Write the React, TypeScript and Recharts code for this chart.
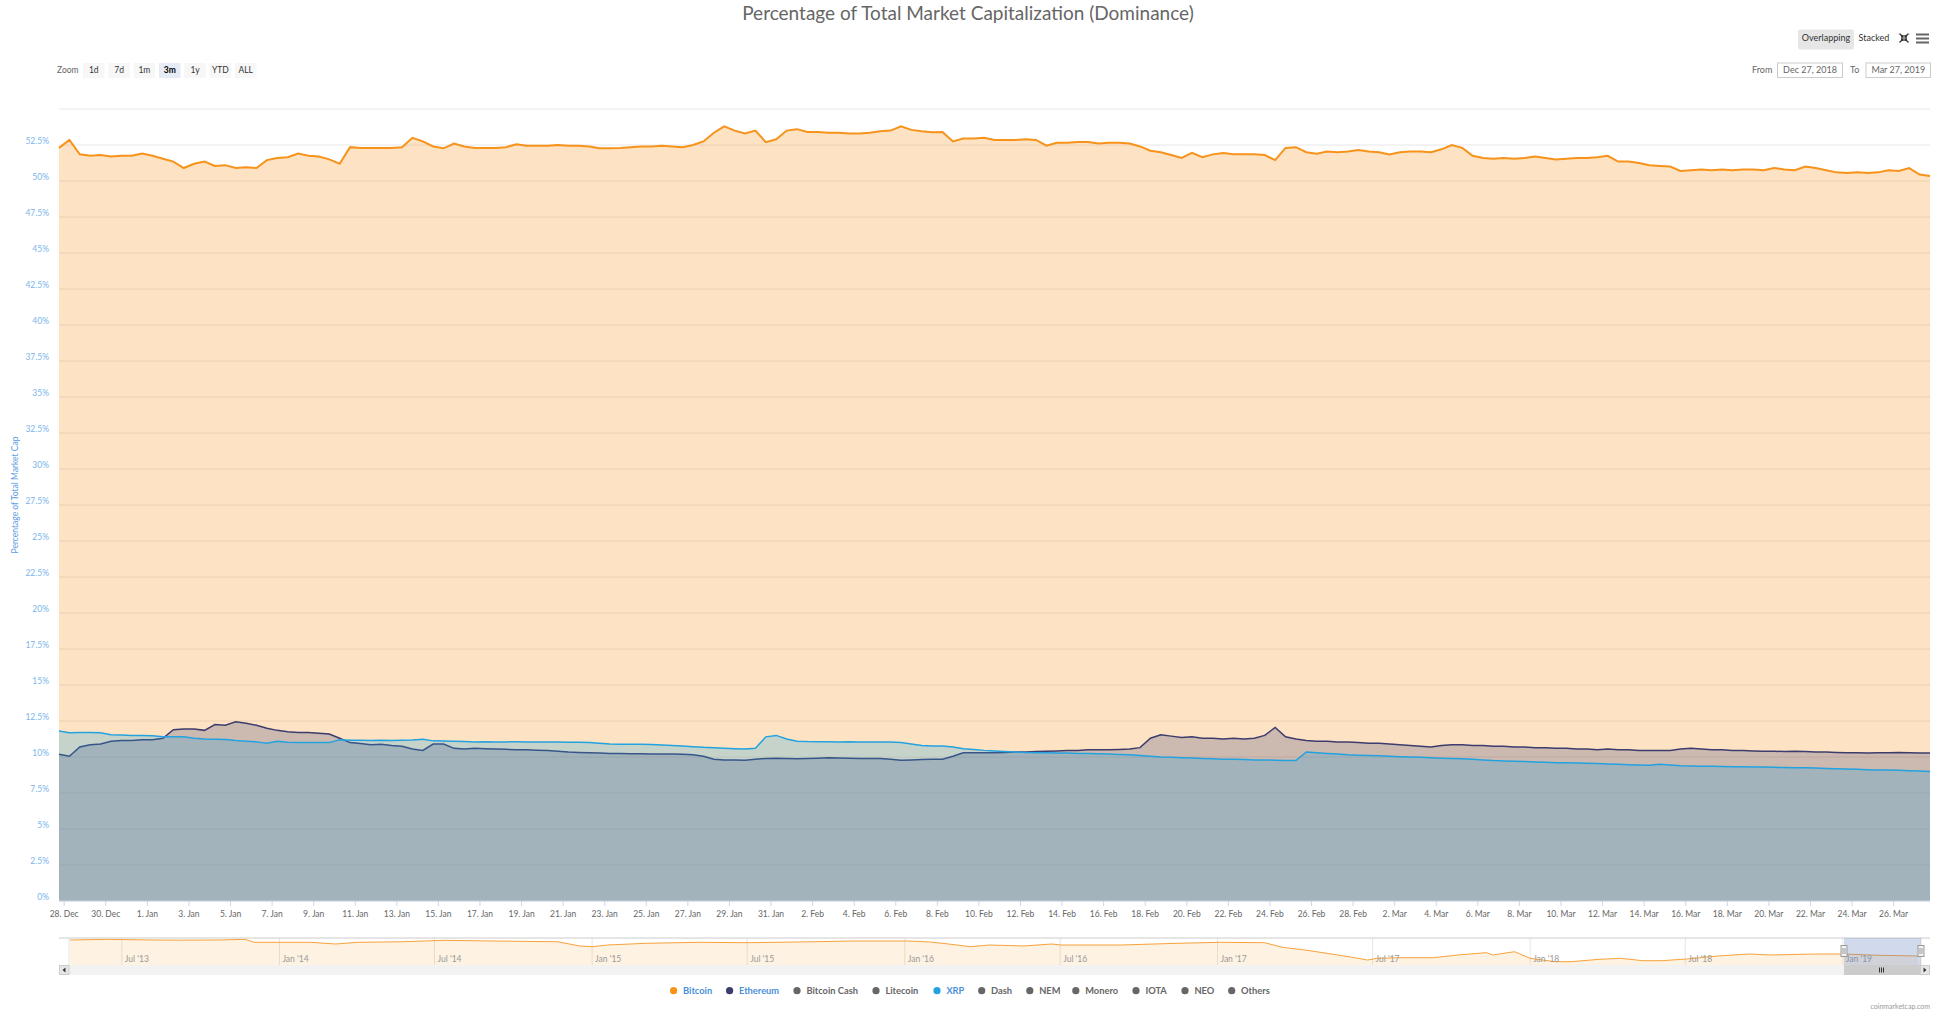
import { AreaChart, Area, XAxis, YAxis, CartesianGrid } from "recharts";

const FONT = "Lato, 'Open Sans', sans-serif";

// readings every 12 hours, first one at Dec 27 2018 18:00 (day -0.25 from 28. Dec)
const firstDay = -0.25;
const stepDays = 0.5;

const btcDominance = [
  52.3, 52.85, 51.85, 51.75, 51.8, 51.7, 51.75, 51.75, 51.9, 51.75,
  51.55, 51.35, 50.9, 51.2, 51.35, 51.05, 51.1, 50.9, 50.95, 50.9,
  51.45, 51.6, 51.65, 51.9, 51.75, 51.7, 51.5, 51.2, 52.35, 52.3,
  52.3, 52.3, 52.3, 52.35, 53.0, 52.75, 52.4, 52.27, 52.6, 52.4,
  52.3, 52.3, 52.3, 52.35, 52.55, 52.45, 52.45, 52.45, 52.5, 52.45,
  52.45, 52.4, 52.27, 52.27, 52.3, 52.35, 52.4, 52.4, 52.45, 52.4,
  52.35, 52.5, 52.75, 53.35, 53.8, 53.5, 53.3, 53.5, 52.7, 52.9,
  53.5, 53.6, 53.4, 53.4, 53.35, 53.35, 53.3, 53.3, 53.35, 53.45,
  53.5, 53.8, 53.55, 53.45, 53.38, 53.4, 52.75, 52.95, 52.95, 53.0,
  52.85, 52.85, 52.85, 52.9, 52.85, 52.45, 52.65, 52.65, 52.7, 52.7,
  52.6, 52.65, 52.65, 52.6, 52.4, 52.1, 52.0, 51.8, 51.6, 51.95,
  51.65, 51.85, 51.95, 51.85, 51.85, 51.85, 51.8, 51.45, 52.3, 52.35,
  52.0, 51.9, 52.05, 52.0, 52.05, 52.15, 52.05, 52.0, 51.85, 52.0,
  52.05, 52.05, 52.0, 52.2, 52.5, 52.3, 51.75, 51.6, 51.55, 51.6,
  51.55, 51.6, 51.7, 51.6, 51.5, 51.55, 51.6, 51.6, 51.65, 51.75,
  51.35, 51.35, 51.25, 51.1, 51.05, 51.0, 50.7, 50.75, 50.8, 50.75,
  50.8, 50.75, 50.8, 50.8, 50.75, 50.9, 50.8, 50.75, 51.0, 50.9,
  50.75, 50.6, 50.55, 50.6, 50.55, 50.6, 50.75, 50.7, 50.9, 50.45,
  50.35,
];

const ethDominance = [
  10.19, 10.05, 10.7, 10.85, 10.9, 11.1, 11.15, 11.15, 11.2, 11.2,
  11.3, 11.9, 11.95, 11.95, 11.85, 12.25, 12.2, 12.45, 12.35, 12.2,
  12.0, 11.85, 11.75, 11.7, 11.7, 11.65, 11.6, 11.3, 11.0, 10.93,
  10.85, 10.88, 10.8, 10.75, 10.55, 10.46, 10.9, 10.9, 10.6, 10.55,
  10.6, 10.58, 10.55, 10.53, 10.5, 10.5, 10.47, 10.45, 10.4, 10.35,
  10.32, 10.3, 10.28, 10.25, 10.24, 10.23, 10.22, 10.21, 10.2, 10.2,
  10.19, 10.15, 10.05, 9.85, 9.8, 9.8, 9.78, 9.85, 9.9, 9.92,
  9.9, 9.88, 9.9, 9.92, 9.95, 9.93, 9.92, 9.9, 9.9, 9.9,
  9.85, 9.77, 9.8, 9.82, 9.84, 9.85, 10.05, 10.3, 10.3, 10.3,
  10.3, 10.32, 10.35, 10.35, 10.38, 10.4, 10.42, 10.45, 10.45, 10.5,
  10.5, 10.5, 10.52, 10.55, 10.65, 11.3, 11.55, 11.45, 11.35, 11.4,
  11.3, 11.3, 11.25, 11.3, 11.25, 11.3, 11.5, 12.05, 11.4, 11.25,
  11.15, 11.1, 11.1, 11.05, 11.05, 11.0, 10.95, 10.95, 10.9, 10.85,
  10.8, 10.75, 10.7, 10.8, 10.85, 10.85, 10.8, 10.8, 10.75, 10.75,
  10.7, 10.7, 10.65, 10.65, 10.6, 10.6, 10.55, 10.55, 10.5, 10.55,
  10.5, 10.5, 10.45, 10.45, 10.45, 10.45, 10.55, 10.6, 10.55, 10.5,
  10.5, 10.45, 10.45, 10.42, 10.4, 10.4, 10.38, 10.4, 10.38, 10.35,
  10.35, 10.32, 10.3, 10.3, 10.28, 10.3, 10.3, 10.32, 10.3, 10.28,
  10.27,
];

const xrpDominance = [
  11.8, 11.68, 11.7, 11.7, 11.68, 11.55, 11.52, 11.5, 11.5, 11.48,
  11.4, 11.4, 11.4, 11.3, 11.25, 11.23, 11.22, 11.15, 11.1, 11.05,
  10.95, 11.1, 11.02, 11.0, 11.0, 11.0, 11.0, 11.2, 11.16, 11.16,
  11.15, 11.16, 11.15, 11.16, 11.18, 11.23, 11.12, 11.11, 11.1, 11.08,
  11.05, 11.06, 11.05, 11.05, 11.06, 11.05, 11.04, 11.05, 11.04, 11.03,
  11.02, 11.0, 10.95, 10.9, 10.88, 10.88, 10.88, 10.87, 10.84, 10.8,
  10.77, 10.72, 10.67, 10.64, 10.61, 10.58, 10.55, 10.6, 11.4, 11.5,
  11.25, 11.1, 11.07, 11.06, 11.06, 11.05, 11.06, 11.05, 11.05, 11.05,
  11.04, 11.0, 10.9, 10.8, 10.77, 10.76, 10.7, 10.58, 10.52, 10.46,
  10.42, 10.38, 10.35, 10.32, 10.3, 10.3, 10.28, 10.27, 10.25, 10.25,
  10.22, 10.2, 10.18, 10.15, 10.1, 10.05, 10.0, 9.98, 9.95, 9.93,
  9.9, 9.88, 9.85, 9.85, 9.82, 9.8, 9.8, 9.78, 9.75, 9.75,
  10.35, 10.3, 10.25, 10.2, 10.15, 10.12, 10.1, 10.08, 10.05, 10.02,
  10.0, 9.98, 9.95, 9.92, 9.9, 9.88, 9.85, 9.8, 9.75, 9.72,
  9.7, 9.68, 9.65, 9.63, 9.6, 9.6, 9.58, 9.57, 9.55, 9.52,
  9.5, 9.47, 9.45, 9.42, 9.5, 9.45, 9.4, 9.38, 9.36, 9.35,
  9.34, 9.33, 9.32, 9.3, 9.3, 9.28, 9.27, 9.26, 9.25, 9.23,
  9.2, 9.18, 9.16, 9.15, 9.12, 9.1, 9.1, 9.08, 9.05, 9.02,
  9.0,
];

const xTickDays = [
  0, 2, 4, 6, 8, 10, 12, 14, 16, 18, 20, 22, 24, 26, 28, 30, 32, 34, 36, 38, 40, 42, 44,
  46, 48, 50, 52, 54, 56, 58, 60, 62, 64, 66, 68, 70, 72, 74, 76, 78, 80, 82, 84, 86, 88,
];
const xTickLabels = [
  "28. Dec", "30. Dec", "1. Jan", "3. Jan", "5. Jan", "7. Jan", "9. Jan", "11. Jan",
  "13. Jan", "15. Jan", "17. Jan", "19. Jan", "21. Jan", "23. Jan", "25. Jan", "27. Jan",
  "29. Jan", "31. Jan", "2. Feb", "4. Feb", "6. Feb", "8. Feb", "10. Feb", "12. Feb",
  "14. Feb", "16. Feb", "18. Feb", "20. Feb", "22. Feb", "24. Feb", "26. Feb", "28. Feb",
  "2. Mar", "4. Mar", "6. Mar", "8. Mar", "10. Mar", "12. Mar", "14. Mar", "16. Mar",
  "18. Mar", "20. Mar", "22. Mar", "24. Mar", "26. Mar",
];
const yTicks = [
  0, 2.5, 5, 7.5, 10, 12.5, 15, 17.5, 20, 22.5, 25, 27.5, 30, 32.5, 35, 37.5, 40, 42.5,
  45, 47.5, 50, 52.5, 55,
];

// navigator: whole history of bitcoin dominance
const navYears = [
  2013.33, 2013.45, 2013.59, 2013.68, 2013.81, 2013.89, 2013.92, 2013.99, 2014.1, 2014.18,
  2014.25, 2014.39, 2014.53, 2014.68, 2014.89, 2014.96, 2015.0, 2015.05, 2015.17, 2015.34,
  2015.5, 2015.71, 2015.83, 2016.01, 2016.08, 2016.14, 2016.21, 2016.27, 2016.38, 2016.47,
  2016.5, 2016.69, 2016.87, 2017.01, 2017.15, 2017.21, 2017.28, 2017.35, 2017.42, 2017.48,
  2017.51, 2017.59, 2017.69, 2017.77, 2017.86, 2017.88, 2017.95, 2018.0, 2018.08, 2018.13,
  2018.22, 2018.29, 2018.36, 2018.42, 2018.5, 2018.6, 2018.7, 2018.77, 2018.91, 2019.0,
  2019.12, 2019.24,
];
const navBtc = [
  94.7, 96.4, 94.7, 94.2, 94.7, 96.4, 88.5, 88.5, 88.5, 84,
  88.5, 90, 93.8, 92, 90, 78.7, 76.8, 81.3, 85.8, 88.5,
  87.5, 90, 92, 92, 89.5, 84, 76.8, 81.3, 78.7, 84,
  81.3, 81.3, 85.8, 88.5, 87.5, 75, 68, 59.2, 50, 41.3,
  45.8, 47.5, 47.5, 54.7, 60.9, 54.7, 63.5, 45.8, 36.8, 36.8,
  43.1, 45.8, 39.5, 39.5, 44, 52, 57.3, 54.7, 57.3, 57.3,
  53.8, 52,
];
const navTickYears = [
  2013.496, 2014, 2014.496, 2015, 2015.496, 2016, 2016.497, 2017, 2017.496, 2018, 2018.496, 2019,
];
const navTickLabels = [
  "Jul '13", "Jan '14", "Jul '14", "Jan '15", "Jul '15", "Jan '16", "Jul '16", "Jan '17",
  "Jul '17", "Jan '18", "Jul '18", "Jan '19",
];

const zoomButtons = ["1d", "7d", "1m", "3m", "1y", "YTD", "ALL"];
const legendNames = [
  "Bitcoin", "Ethereum", "Bitcoin Cash", "Litecoin", "XRP", "Dash", "NEM", "Monero", "IOTA", "NEO", "Others",
];
const legendColors = [
  "#f7931a", "#3c3c6e", "#666666", "#666666", "#23a2e0", "#666666", "#666666", "#666666", "#666666", "#666666", "#666666",
];
const legendActive = [true, true, false, false, true, false, false, false, false, false, false];
const legendX = [673.6, 729.6, 797, 876, 937, 981.7, 1029.8, 1075.8, 1136, 1185, 1231.7];

const rows = btcDominance.map((btc, i) => ({
  t: firstDay + i * stepDays,
  btc,
  eth: ethDominance[i],
  xrp: xrpDominance[i],
}));
const navRows = navYears.map((year, i) => ({ year, btc: navBtc[i] }));

const XTick = (props: any) => {
  const i = xTickDays.indexOf(props.payload.value);
  return (
    <text x={props.x} y={916.5} textAnchor="middle" fontSize={8.5} fill="#666" fontFamily={FONT}>
      {xTickLabels[i]}
    </text>
  );
};

const YTick = (props: any) => {
  const v = props.payload.value;
  if (v === 55) return <g />;
  return (
    <text x={49} y={props.y - 1} textAnchor="end" fontSize={8.5} fill="#7cb5ec" fontFamily={FONT}>
      {v}%
    </text>
  );
};

// navigator labels sit inside the navigator, just right of each grid line
const NavTick = (props: any) => {
  const i = navTickYears.indexOf(props.payload.value);
  return (
    <text x={props.x + 3} y={24} fontSize={8.5} fill="#999" fontFamily={FONT}>
      {navTickLabels[i]}
    </text>
  );
};

const App = () => {
  return (
    <div
      style={{
        position: "absolute",
        left: 0,
        top: 0,
        width: 1934,
        height: 1011,
        overflow: "hidden",
        background: "#fff",
        fontFamily: FONT,
      }}
    >
      {/* main chart */}
      <div style={{ position: "absolute", left: 0, top: 0 }}>
        <AreaChart width={1934} height={930} data={rows} margin={{ top: 109, right: 4, left: 0, bottom: 0 }}>
          <CartesianGrid vertical={false} stroke="#e6e6e6" />
          <XAxis
            dataKey="t"
            type="number"
            domain={[-0.25, 89.75]}
            ticks={xTickDays}
            interval={0}
            height={29}
            tick={XTick}
            tickSize={5}
            axisLine={{ stroke: "#ccd6eb" }}
            tickLine={{ stroke: "#ccd6eb" }}
          />
          <YAxis
            type="number"
            domain={[0, 55]}
            ticks={yTicks}
            interval={0}
            width={59}
            tick={YTick}
            axisLine={false}
            tickLine={false}
          />
          <Area
            type="linear"
            dataKey="btc"
            stroke="#f7931a"
            strokeWidth={2}
            fill="#f7931a"
            fillOpacity={0.26}
            dot={false}
            activeDot={false}
            isAnimationActive={false}
          />
          <Area
            type="linear"
            dataKey="eth"
            stroke="#3c3c6e"
            strokeWidth={1.5}
            fill="#3c3c6e"
            fillOpacity={0.25}
            dot={false}
            activeDot={false}
            isAnimationActive={false}
          />
          <Area
            type="linear"
            dataKey="xrp"
            stroke="#23a2e0"
            strokeWidth={1.5}
            fill="#23a2e0"
            fillOpacity={0.25}
            dot={false}
            activeDot={false}
            isAnimationActive={false}
          />
        </AreaChart>
      </div>

      {/* navigator */}
      <div style={{ position: "absolute", left: 0, top: 938 }}>
        <AreaChart width={1934} height={40} data={navRows} margin={{ top: 0, right: 13, left: 69, bottom: 0 }}>
          <CartesianGrid horizontal={false} stroke="#e6e6e6" />
          <XAxis
            dataKey="year"
            type="number"
            domain={[2013.327, 2019.25]}
            ticks={navTickYears}
            interval={0}
            height={13}
            tick={NavTick}
            axisLine={false}
            tickLine={false}
          />
          <YAxis type="number" domain={[28, 100]} hide />
          <Area
            type="linear"
            dataKey="btc"
            stroke="#f7931a"
            strokeOpacity={0.85}
            strokeWidth={1}
            fill="#f7931a"
            fillOpacity={0.12}
            dot={false}
            activeDot={false}
            isAnimationActive={false}
          />
        </AreaChart>
      </div>

      {/* texts, buttons, navigator handles, scrollbar and legend */}
      <svg
        width={1934}
        height={1011}
        style={{ position: "absolute", left: 0, top: 0, pointerEvents: "none" }}
        fontFamily={FONT}
      >
        <text x={968} y={20} textAnchor="middle" fontSize={19} fill="#666">
          Percentage of Total Market Capitalization (Dominance)
        </text>

        <text x={57} y={73.3} fontSize={8.5} fill="#666">
          Zoom
        </text>
        {zoomButtons.map((b, i) => {
          const x = 83 + i * 25.33;
          const sel = b === "3m";
          return (
            <g key={b}>
              <rect x={x} y={63} width={21.5} height={15} fill={sel ? "#e6ebf5" : "#f7f7f7"} />
              <text
                x={x + 10.75}
                y={73.3}
                textAnchor="middle"
                fontSize={8.5}
                fill={sel ? "#000" : "#333"}
                fontWeight={sel ? 700 : 400}
              >
                {b}
              </text>
            </g>
          );
        })}

        <rect x={1798} y={29.5} width={56} height={20} rx={2} fill="#e6e6e6" />
        <text x={1826} y={40.8} textAnchor="middle" fontSize={9} fill="#333">
          Overlapping
        </text>
        <text x={1874} y={40.8} textAnchor="middle" fontSize={9} fill="#333">
          Stacked
        </text>
        <g stroke="#333" strokeWidth={1.3} fill="none">
          <path d="M1899.5 33.5 L1903 37 M1903 35 L1903 37 L1901 37" />
          <path d="M1908.5 33.5 L1905 37 M1905 35 L1905 37 L1907 37" />
          <path d="M1899.5 42.5 L1903 39 M1903 41 L1903 39 L1901 39" />
          <path d="M1908.5 42.5 L1905 39 M1905 41 L1905 39 L1907 39" />
        </g>
        <rect x={1916} y={33.5} width={13} height={2} fill="#666" />
        <rect x={1916} y={37.5} width={13} height={2} fill="#666" />
        <rect x={1916} y={41.5} width={13} height={2} fill="#666" />

        <text x={1752} y={73.3} fontSize={9} fill="#666">
          From
        </text>
        <rect x={1777.5} y={63} width={65} height={14.5} fill="#fff" stroke="#ccc" />
        <text x={1810} y={73.3} textAnchor="middle" fontSize={9} fill="#666">
          Dec 27, 2018
        </text>
        <text x={1850} y={73.3} fontSize={9} fill="#666">
          To
        </text>
        <rect x={1866} y={63} width={64.5} height={14.5} fill="#fff" stroke="#ccc" />
        <text x={1898.3} y={73.3} textAnchor="middle" fontSize={9} fill="#666">
          Mar 27, 2019
        </text>

        <text transform="translate(18,495) rotate(-90)" textAnchor="middle" fontSize={8.5} fill="#5c9ce0">
          Percentage of Total Market Cap
        </text>

        {/* navigator outline, selection and handles */}
        <line x1={59} x2={1930} y1={938} y2={938} stroke="#ccc" />
        <rect x={1844} y={938} width={77} height={27} fill="rgba(102,133,194,0.3)" />
        {[1844, 1921].map((hx) => (
          <g key={hx}>
            <rect x={hx - 3} y={945.5} width={6} height={11} fill="#f2f2f2" stroke="#999" />
            <line x1={hx - 1} x2={hx - 1} y1={948} y2={954} stroke="#999" />
            <line x1={hx + 1} x2={hx + 1} y1={948} y2={954} stroke="#999" />
          </g>
        ))}

        {/* scrollbar */}
        <rect x={59} y={965} width={1871} height={10} fill="#f2f2f2" />
        <rect x={59.5} y={965.5} width={9.5} height={9} fill="#e6e6e6" stroke="#ccc" />
        <path d="M62.5 970 L65.5 967.5 L65.5 972.5 Z" fill="#333" />
        <rect x={1920.5} y={965.5} width={9} height={9} fill="#e6e6e6" stroke="#ccc" />
        <path d="M1926.5 970 L1923.5 967.5 L1923.5 972.5 Z" fill="#333" />
        <rect x={1844} y={965} width={76.5} height={10} fill="#ccc" />
        <line x1={1879.5} x2={1879.5} y1={967.5} y2={972.5} stroke="#333" />
        <line x1={1881.5} x2={1881.5} y1={967.5} y2={972.5} stroke="#333" />
        <line x1={1883.5} x2={1883.5} y1={967.5} y2={972.5} stroke="#333" />

        {/* legend */}
        {legendNames.map((name, i) => (
          <g key={name}>
            <circle cx={legendX[i]} cy={990.7} r={3.6} fill={legendColors[i]} />
            <text
              x={legendX[i] + 9.4}
              y={994}
              fontSize={9.3}
              fontWeight={700}
              fill={legendActive[i] ? "#4a8fd8" : "#666"}
            >
              {name}
            </text>
          </g>
        ))}

        <text x={1930} y={1008.5} textAnchor="end" fontSize={7} fill="#999">
          coinmarketcap.com
        </text>
      </svg>
    </div>
  );
};

export default App;
